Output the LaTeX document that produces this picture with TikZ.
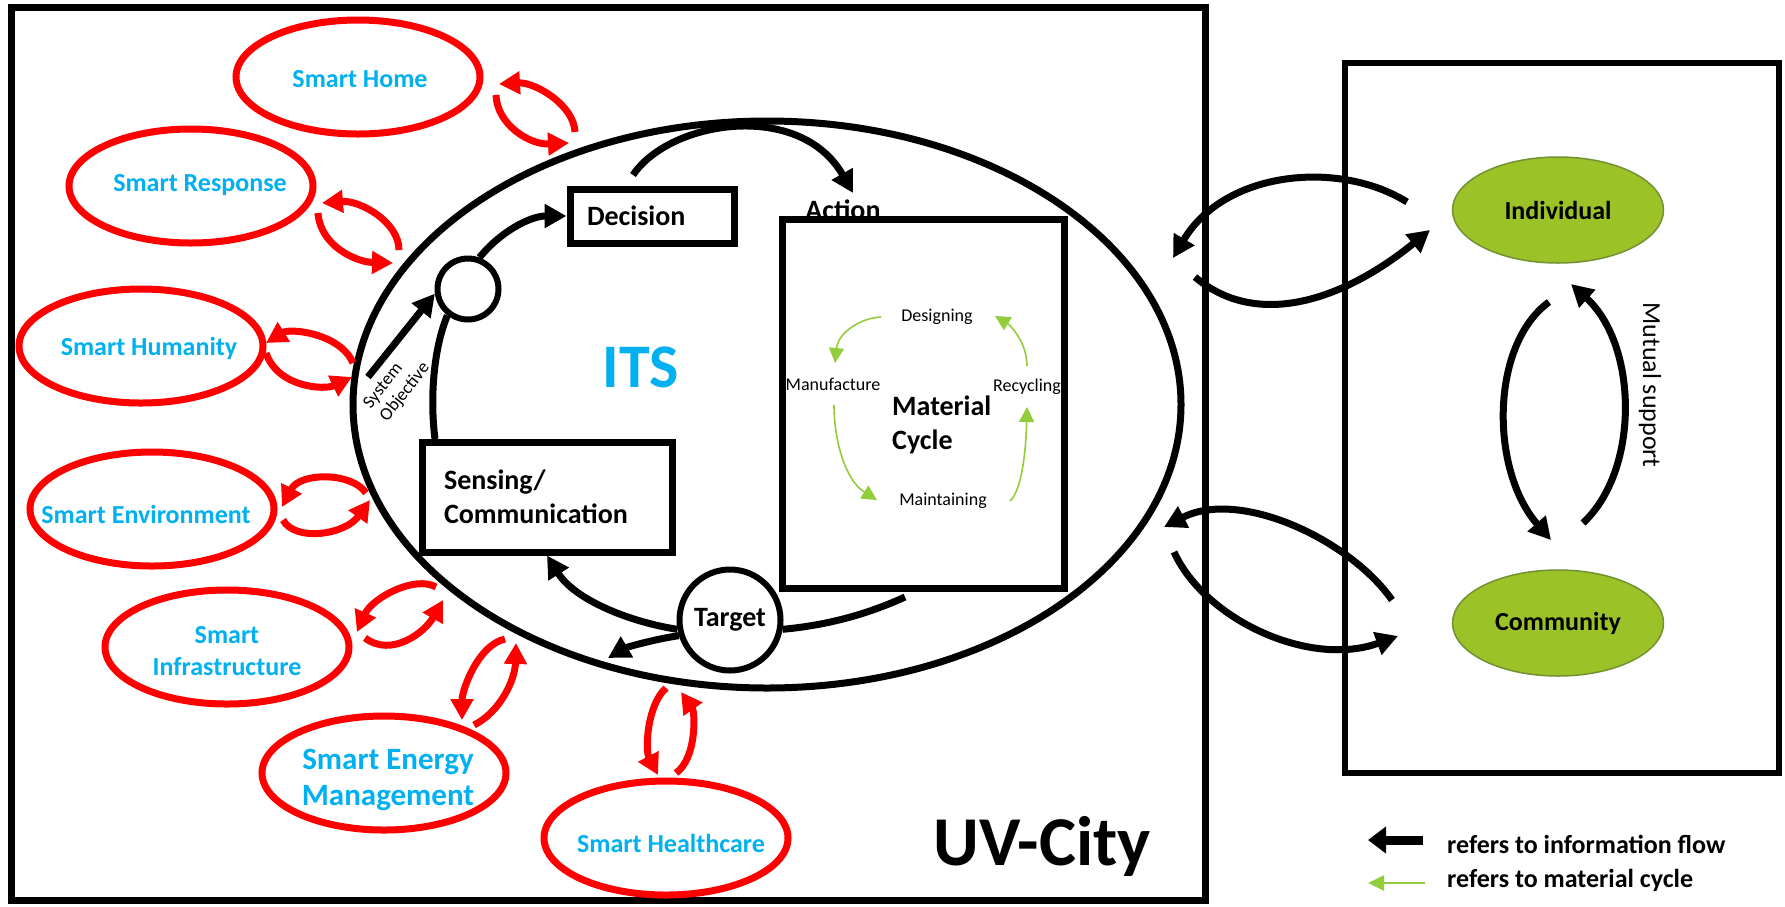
\documentclass[tikz,border=0pt]{standalone}
\usepackage{fontspec}
\setmainfont{Carlito}
\usetikzlibrary{shapes.geometric,arrows.meta}
\definecolor{cyanT}{RGB}{0,176,240}
\definecolor{redA}{RGB}{255,0,0}
\definecolor{greenF}{RGB}{155,195,40}
\definecolor{greenB}{RGB}{115,145,50}
\definecolor{greenA}{RGB}{146,205,60}
\begin{document}
\begin{tikzpicture}[x=1pt,y=-1pt,
  smart/.style={ellipse, draw=redA, line width=7pt, minimum width=244pt, minimum height=114pt, inner sep=0pt},
  smarttext/.style={text=cyanT, font=\fontsize{26}{32}\selectfont\bfseries, align=center, inner sep=0pt},
  redarr/.style={draw=redA, line width=7pt, -{Triangle[length=21pt,width=22pt]}},
  infoarr/.style={draw=black, line width=7pt, -{Triangle[length=22pt,width=23pt]}},
  infoline/.style={draw=black, line width=7pt},
  matarr/.style={draw=greenA, line width=1.6pt, -{Triangle[length=15pt,width=15pt]}},
  blkbox/.style={draw=black, line width=7pt, rectangle, inner sep=0pt},
  cyc/.style={font=\fontsize{18}{22}\selectfont},
  boldt/.style={font=\fontsize{28}{34}\selectfont\bfseries},
  social/.style={ellipse, fill=greenF, draw=greenB, line width=1.5pt, minimum width=211pt, minimum height=106pt, inner sep=0pt, font=\fontsize{26}{30}\selectfont\bfseries}
]
\useasboundingbox (0,0) rectangle (1785,906);

% frames
\node[blkbox, minimum width=1194pt, minimum height=893pt] (uv) at (608,453.5) {};
\node[blkbox, line width=6pt, minimum width=434pt, minimum height=710pt] (soc) at (1562,418) {};
\node[font=\fontsize{70}{80}\selectfont\bfseries, anchor=base, inner sep=0pt] (uvlbl) at (1042,865) {UV-City};

% ITS ellipse
\node[ellipse, draw=black, line width=7pt, minimum width=828pt, minimum height=567pt, inner sep=0pt] (its) at (767,404.5) {};
\node[text=cyanT, font=\fontsize{62}{70}\selectfont\bfseries, inner sep=0pt] (itslbl) at (641,367) {ITS};

% smart ellipses
\node[smart] (home) at (358,77) {};
\node[smart] (resp) at (191,186) {};
\node[smart] (hum) at (141,346) {};
\node[smart] (env) at (152,509) {};
\node[smart] (inf) at (227,647) {};
\node[smart] (ene) at (384,773) {};
\node[smart] (hea) at (666,838) {};
\node[smarttext] (homeT) at (360,79) {Smart Home};
\node[smarttext] (respT) at (200,185) {Smart Response};
\node[smarttext] (humT) at (149,348) {Smart Humanity};
\node[smarttext] (envT) at (146,514) {Smart Environment};
\node[smarttext] (infT) at (227,651) {Smart\\Infrastructure};
\node[smarttext, font=\fontsize{31}{36}\selectfont\bfseries] (eneT) at (388,780) {Smart Energy\\Management};
\node[smarttext] (heaT) at (671,843) {Smart Healthcare};

% inner boxes
\node[blkbox, minimum width=164pt, minimum height=54pt, text width=130pt, inner xsep=17pt, align=left, boldt] (dec) at (652,216) {Decision};
\node[blkbox, minimum height=110pt, text width=206pt, inner xsep=22pt, align=left, boldt] (sense) at (547,497) {Sensing/\\Communication};
\node[boldt, anchor=base, inner sep=0pt] (actlbl) at (843,219) {Action};
\node[blkbox, fill=white, minimum width=282pt, minimum height=369pt] (act) at (923,403.5) {};
\node[circle, draw=black, line width=6pt, minimum size=101pt, inner sep=0pt, boldt] (tgt) at (730,620) {Target};
\node[circle, draw=black, line width=6pt, minimum size=61pt, inner sep=0pt] (circ) at (468,289) {};
\node[rotate=52, font=\fontsize{18}{21}\selectfont, align=left, inner sep=0pt] (sobj) at (397,386) {System\\Objective};

% material cycle
\node[cyc] (des) at (937,317) {Designing};
\node[cyc] (man) at (833,384) {Manufacture};
\node[cyc] (rec) at (1027,387) {Recycling};
\node[cyc] (mai) at (943,501) {Maintaining};
\node[boldt, align=left, anchor=west, inner sep=0pt] (mc) at (892,425) {Material\\Cycle};
\coordinate (g1a) at (881,317); \coordinate (g1b) at (835,363);
\coordinate (g2a) at (834,405); \coordinate (g2b) at (877,500);
\coordinate (g3a) at (1010,501); \coordinate (g3b) at (1027,407);
\coordinate (g4a) at (1027,366); \coordinate (g4b) at (995,316);
\draw[matarr] (g1a) .. controls (860,318) and (838,333) .. (g1b);
\draw[matarr] (g2a) .. controls (834,440) and (845,480) .. (g2b);
\draw[matarr] (g3a) .. controls (1022,490) and (1026,450) .. (g3b);
\draw[matarr] (g4a) .. controls (1027,342) and (1010,325) .. (g4b);

% individual / community
\node[social] (ind) at (1558,210) {Individual};
\node[social] (com) at (1558,623) {Community};
\node[rotate=-90, font=\fontsize{26}{30}\selectfont, inner sep=0pt] (ms) at (1650,385) {Mutual support};

% black info arrows inside ITS
\coordinate (soA) at (368,377);
\draw[infoarr] (soA) -- (circ.188);
\draw[infoarr] (circ.70) .. controls (500,232) and (530,216) .. (dec.west);
\coordinate (senTop) at (435,439);
\draw[infoline] (senTop) .. controls (430,400) and (433,350) .. (circ.232);
\coordinate (decTop) at (633,175); \coordinate (actTip) at (853,193);
\draw[infoarr] (decTop) .. controls (670,120) and (800,100) .. (actTip);
\draw[infoarr] (tgt.190) .. controls (630,622) and (575,600) .. (sense.south);
\coordinate (itsLL) at (608,658);
\draw[infoarr] (tgt.197) .. controls (650,640) and (625,648) .. (itsLL);
\coordinate (actLo) at (905,597);
\draw[infoline] (tgt.-10) .. controls (830,625) and (870,613) .. (actLo);

% red double arrows
\coordinate (h1) at (575,132); \coordinate (h2) at (499,84);
\coordinate (h3) at (496,95);  \coordinate (h4) at (569,143);
\draw[redarr] (h1) .. controls (574,105) and (535,82) .. (h2);
\draw[redarr] (h3) .. controls (497,125) and (530,145) .. (h4);
\coordinate (r1) at (399,250); \coordinate (r2) at (322,203);
\coordinate (r3) at (318,213); \coordinate (r4) at (393,263);
\draw[redarr] (r1) .. controls (399,222) and (360,200) .. (r2);
\draw[redarr] (r3) .. controls (320,245) and (355,262) .. (r4);
\coordinate (u1) at (353,363); \coordinate (u2) at (266,343);
\coordinate (u3) at (266,353); \coordinate (u4) at (352,377);
\draw[redarr] (u1) .. controls (340,333) and (290,328) .. (u2);
\draw[redarr] (u3) .. controls (278,388) and (325,390) .. (u4);
\coordinate (e1) at (366,493); \coordinate (e2) at (282,507);
\coordinate (e3) at (283,520); \coordinate (e4) at (370,500);
\draw[redarr] (e1) .. controls (352,472) and (300,472) .. (e2);
\draw[redarr] (e3) .. controls (295,542) and (345,535) .. (e4);
\coordinate (i1) at (436,587); \coordinate (i2) at (357,632);
\coordinate (i3) at (365,638); \coordinate (i4) at (443,600);
\draw[redarr] (i1) .. controls (415,575) and (372,598) .. (i2);
\draw[redarr] (i3) .. controls (392,658) and (425,632) .. (i4);
\coordinate (n1) at (505,639); \coordinate (n2) at (462,720);
\coordinate (n3) at (474,725); \coordinate (n4) at (516,643);
\draw[redarr] (n1) .. controls (478,645) and (462,690) .. (n2);
\draw[redarr] (n3) .. controls (500,712) and (515,680) .. (n4);
\coordinate (c1) at (666,688); \coordinate (c2) at (658,775);
\coordinate (c3) at (676,773); \coordinate (c4) at (681,692);
\draw[redarr] (c1) .. controls (647,705) and (645,750) .. (c2);
\draw[redarr] (c3) .. controls (697,758) and (695,712) .. (c4);

% society arrows
\coordinate (p1) at (1407,202); \coordinate (p2) at (1173,258);
\coordinate (p3) at (1195,277); \coordinate (p4) at (1430,230);
\draw[infoarr] (p1) .. controls (1340,160) and (1225,170) .. (p2);
\draw[infoarr] (p3) .. controls (1255,328) and (1340,303) .. (p4);
\coordinate (q1) at (1392,600); \coordinate (q2) at (1164,527);
\coordinate (q3) at (1174,552); \coordinate (q4) at (1398,636);
\draw[infoarr] (q1) .. controls (1350,540) and (1240,488) .. (q2);
\draw[infoarr] (q3) .. controls (1205,620) and (1310,668) .. (q4);
\coordinate (m1) at (1549,302); \coordinate (m2) at (1551,540);
\coordinate (m3) at (1583,523); \coordinate (m4) at (1571,284);
\draw[infoarr] (m1) .. controls (1490,345) and (1490,470) .. (m2);
\draw[infoarr] (m3) .. controls (1640,470) and (1638,345) .. (m4);

% legend
\coordinate (l1a) at (1423,840); \coordinate (l1b) at (1368,840);
\coordinate (l2a) at (1425,883); \coordinate (l2b) at (1368,883);
\draw[line width=9pt, -{Triangle[length=18pt,width=26pt]}] (l1a) -- (l1b);
\draw[draw=greenA, line width=2pt, -{Triangle[length=16pt,width=15pt]}] (l2a) -- (l2b);
\node[font=\fontsize{26}{30}\selectfont\bfseries, anchor=base west, inner sep=0pt] (lt1) at (1447,853) {refers to information flow};
\node[font=\fontsize{26}{30}\selectfont\bfseries, anchor=base west, inner sep=0pt] (lt2) at (1447,887) {refers to material cycle};
\end{tikzpicture}
\end{document}
